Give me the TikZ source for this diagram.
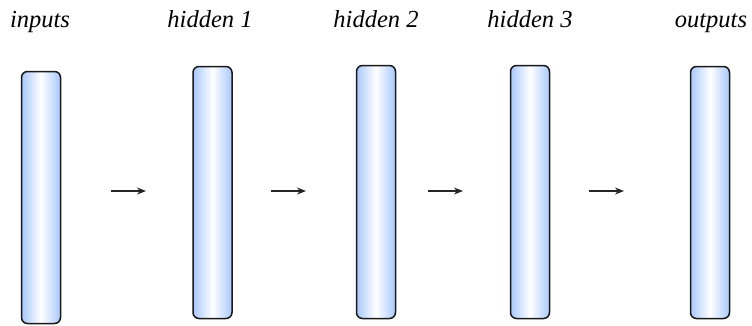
\documentclass[tikz,border=0pt]{standalone}
\usepackage{fontspec}
\setmainfont{Liberation Serif}
\usetikzlibrary{arrows.meta}
\begin{document}
\begin{tikzpicture}[x=1pt,y=-1pt,
  layer/.style={draw=black!90, line width=1.5pt, rounded corners=6pt,
    minimum width=39pt, inner sep=0pt, shading=axis},
  lbl/.style={font=\itshape\fontsize{24.5}{28}\selectfont, anchor=base},
  flow/.style={line width=1.2pt, draw=black!85, -{Stealth[length=9pt,width=7pt]}}]
\useasboundingbox (0,0) rectangle (752,325);
\definecolor{barblue}{RGB}{168,200,252}
\tikzset{layer/.append style={left color=barblue, right color=barblue, middle color=white}}
\node[layer, minimum height=252pt] (in) at (41,197.5) {};
\node[layer, minimum height=252pt] (h1) at (212.5,192.5) {};
\node[layer, minimum height=253pt] (h2) at (376,192) {};
\node[layer, minimum height=253pt] (h3) at (530,192) {};
\node[layer, minimum height=252pt] (out) at (710,192.5) {};
\node[lbl] (tin) at (40,27) {inputs};
\node[lbl] (th1) at (210,27) {hidden 1};
\node[lbl] (th2) at (376,27) {hidden 2};
\node[lbl] (th3) at (530,27) {hidden 3};
\node[lbl] (tout) at (711,27) {outputs};
\coordinate (a1s) at (111,191); \coordinate (a1e) at (146,191);
\coordinate (a2s) at (271,191); \coordinate (a2e) at (306,191);
\coordinate (a3s) at (428,191); \coordinate (a3e) at (463,191);
\coordinate (a4s) at (589,191); \coordinate (a4e) at (624,191);
\draw[flow] (a1s) -- (a1e);
\draw[flow] (a2s) -- (a2e);
\draw[flow] (a3s) -- (a3e);
\draw[flow] (a4s) -- (a4e);
\end{tikzpicture}
\end{document}
